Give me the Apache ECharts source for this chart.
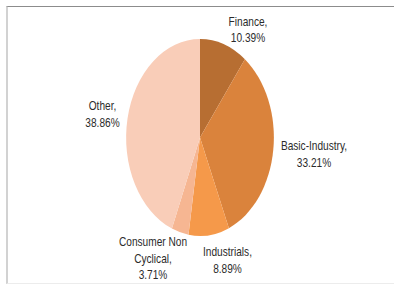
<!DOCTYPE html>
<html>
<head>
<meta charset="utf-8">
<script src="https://cdn.jsdelivr.net/npm/echarts@6/dist/echarts.min.js"></script>
<style>
  html, body { margin: 0; padding: 0; background: #fff; }
  body { width: 394px; height: 284px; position: relative; overflow: hidden; }
  #frame {
    position: absolute; left: 6px; top: 6px; right: 0; bottom: 0;
    border-top: 1px solid #8c8c8c;
    border-left: 2px solid #d2d2d2;
    border-bottom: 1px solid #ececec;
  }
  /* the reference pie is squeezed sideways, so the whole drawing is too */
  #chart {
    position: absolute; left: 0; top: 0;
    width: 525px; height: 284px;
    transform: scaleX(0.75); transform-origin: 0 0;
  }
</style>
</head>
<body>
<div id="frame"></div>
<div id="chart"></div>
<script>
// sector names, in clockwise order from 12 o'clock
var sectorNames = ['Finance', 'Basic-Industry', 'Industrials', 'Consumer Non\nCyclical', 'Other'];
// percentages printed on the labels
var labelPct = ['10.39', '33.21', '8.89', '3.71', '38.86'];
// wedge sizes as drawn (the Other wedge is wider than its printed 38.86%)
var wedgeSize = [10.39, 33.21, 8.89, 3.71, 43.8];
var sectorColors = ['#b76e32', '#da833c', '#f5994a', '#f6b692', '#f9cdb8'];

var squeeze = 0.75;
// where each label block sits on the page (centre, screen px)
var labelSpots = [[248, 29.5], [314, 154], [227.5, 260], [153, 258], [102.5, 114]];

function initChart() {
  var el = document.getElementById('chart');
  var chart = echarts.init(el, null, {renderer: 'svg'});

  var data = [];
  for (var i = 0; i < sectorNames.length; i++) {
    data.push({
      name: sectorNames[i],
      value: wedgeSize[i],
      pct: labelPct[i],
      itemStyle: {color: sectorColors[i]}
    });
  }

  chart.setOption({
    animation: false,
    series: [
      {
        type: 'pie',
        center: [200 / squeeze, 137.5],
        radius: 98.5,
        startAngle: 90,
        clockwise: true,
        silent: true,
        data: data,
        itemStyle: {borderWidth: 0},
        label: {
          show: true,
          position: 'outside',
          fontFamily: 'Liberation Sans, Arial, sans-serif',
          fontSize: 13.5,
          lineHeight: 16.5,
          color: '#2b2b2b',
          align: 'center',
          formatter: function(p) {
            return p.name + ',\n' + p.data.pct + '%';
          }
        },
        labelLine: {show: false},
        labelLayout: function(params) {
          var spot = labelSpots[params.dataIndex];
          return {
            x: spot[0] / squeeze,
            y: spot[1],
            align: 'center',
            verticalAlign: 'middle'
          };
        }
      }
    ]
  });
}

initChart();
</script>
</body>
</html>
